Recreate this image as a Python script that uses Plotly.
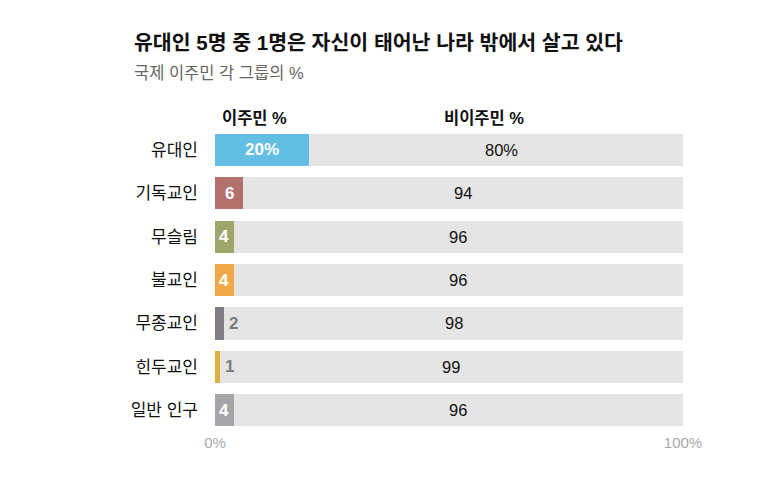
import plotly.graph_objects as go

categories = ["유대인", "기독교인", "무슬림", "불교인", "무종교인", "힌두교인", "일반 인구"]
migrant = [20, 6, 4, 4, 2, 1, 4]
non_migrant = [80, 94, 96, 96, 98, 99, 96]
colors = ["#62bee2", "#b3716b", "#9ea66c", "#f0a848", "#817d86", "#dcb03e", "#a4a4a9"]
tick_vals = [0, 100]
tick_text = ["0%", "100%"]

FONT = "Liberation Sans, Noto Sans CJK KR, sans-serif"

fig = go.Figure()
fig.add_trace(go.Bar(y=categories, x=migrant, orientation="h",
                     marker=dict(color=colors, line=dict(width=0)),
                     hoverinfo="skip", showlegend=False))
fig.add_trace(go.Bar(y=categories, x=non_migrant, orientation="h",
                     marker=dict(color="#e5e5e5", line=dict(width=0)),
                     hoverinfo="skip", showlegend=False))

annotations = []
for i, (c, m, n) in enumerate(zip(categories, migrant, non_migrant)):
    first = i == 0
    mtxt = f"{m}%" if first else str(m)
    ntxt = f"{n}%" if first else str(n)
    if m >= 4:
        annotations.append(dict(x=m / 2, y=c, text=f"<b>{mtxt}</b>", showarrow=False,
                                font=dict(color="white", size=17, family=FONT),
                                xanchor="center", yanchor="middle"))
    else:
        annotations.append(dict(x=m, y=c, text=f"<b>{mtxt}</b>", showarrow=False,
                                font=dict(color="#7a7a7a", size=17, family=FONT),
                                xanchor="left", yanchor="middle", xshift=3))
    annotations.append(dict(x=m + n / 2, y=c, text=ntxt, showarrow=False,
                            font=dict(color="#111", size=16.5, family=FONT),
                            xanchor="center", yanchor="middle",
                            xshift=6 if first else 0))

annotations += [
    dict(xref="paper", yref="paper", x=-0.177, y=1.28, text="<b>유대인 5명 중 1명은 자신이 태어난 나라 밖에서 살고 있다</b>",
         showarrow=False, xanchor="left", yanchor="middle", font=dict(size=20.5, color="#111", family=FONT)),
    dict(xref="paper", yref="paper", x=-0.177, y=1.181, text="국제 이주민 각 그룹의 %",
         showarrow=False, xanchor="left", yanchor="middle", font=dict(size=16.5, color="#666", family=FONT)),
    dict(xref="x", yref="paper", x=8.5, y=1.033, text="<b>이주민 %</b>",
         showarrow=False, xanchor="center", yanchor="middle", font=dict(size=16.5, color="#111", family=FONT)),
    dict(xref="x", yref="paper", x=57.5, y=1.033, text="<b>비이주민 %</b>",
         showarrow=False, xanchor="center", yanchor="middle", font=dict(size=16.5, color="#111", family=FONT)),
]

fig.update_layout(
    width=760, height=478,
    margin=dict(l=215, r=77, t=128, b=46),
    barmode="stack", bargap=0.26,
    plot_bgcolor="white", paper_bgcolor="white",
    font=dict(family=FONT),
    annotations=annotations,
    xaxis=dict(range=[0, 100], tickvals=tick_vals, ticktext=tick_text,
               showgrid=False, zeroline=False, showline=False, ticks="",
               tickfont=dict(size=15, color="#aaaaaa"), fixedrange=True),
    yaxis=dict(autorange="reversed", showgrid=False, zeroline=False, showline=False,
               ticks="", ticklabelstandoff=16,
               tickfont=dict(size=17, color="#111"), fixedrange=True),
)

fig.write_html("out.html", config={"displayModeBar": False})
